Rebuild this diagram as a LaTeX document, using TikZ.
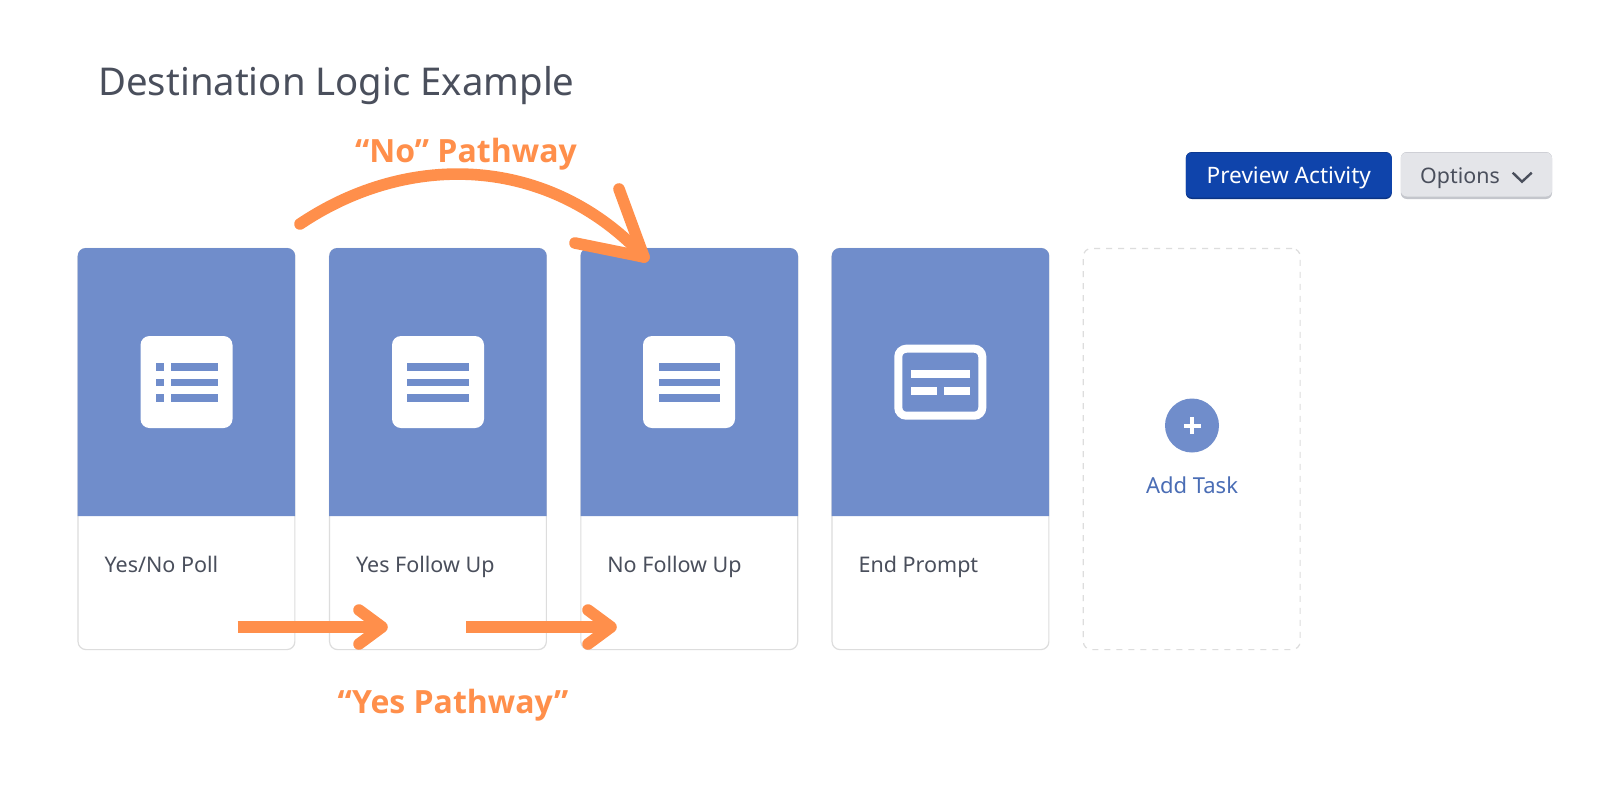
\documentclass[tikz,border=0pt]{standalone}
\usepackage{fontspec}
\setmainfont{Noto Sans}
\newfontfamily\pathfont{Open Sans}
\usepackage{tikz}
\definecolor{headblue}{HTML}{708DCB}
\definecolor{pathorange}{HTML}{FF8F4B}
\definecolor{btnblue}{HTML}{0F44AB}
\definecolor{btnblueedge}{HTML}{0B3484}
\definecolor{btngrey}{HTML}{E4E5E9}
\definecolor{btngreyedge}{HTML}{C4C6CC}
\definecolor{inktext}{HTML}{4A4F5C}
\definecolor{edgegrey}{HTML}{DDDDDD}
\definecolor{linkblue}{HTML}{4A6DB5}
\tikzset{
	cardbox/.style={draw=edgegrey, line width=0.6pt, rounded corners=4pt, minimum width=108.4pt, minimum height=200.6pt, inner sep=0pt},
	cardlabel/.style={anchor=base west, text=inktext, font=\fontsize{10.75}{12}\selectfont, inner sep=0pt},
	iconbox/.style={fill=white, rounded corners=4.5pt, minimum width=46pt, minimum height=46pt, inner sep=0pt},
	pathline/.style={draw=pathorange, line width=5.8pt},
	pathhead/.style={pathline, line cap=round, line join=round},
	pathlabel/.style={text=pathorange, font=\pathfont\bfseries\fontsize{16}{20}\selectfont, inner sep=0pt}
}
\newcommand{\card}[3]{
	\node[cardbox] (card#1) at (#2+108.75,449) {};
	\fill[headblue, rounded corners=4pt] (#2,516) [sharp corners] -- (#2,400) [rounded corners=4pt] -- (#2,248) -- (#2+217.5,248) -- (#2+217.5,400) [sharp corners] -- (#2+217.5,516) -- cycle;
	\node[cardlabel] (label#1) at (#2+26.5,572) {#3};
}
\newcommand{\iconbar}[4]{\fill[#4] (#1,#3) rectangle (#2,#3+7.6);}
\newcommand{\yesarrow}[3]{
	\coordinate (#1start) at (#2,627);
	\coordinate (#1tip) at (#3,627);
	\coordinate (#1up) at (#3-23,610);
	\coordinate (#1down) at (#3-23,644);
	\draw[pathline] (#1start) -- (#1tip);
	\draw[pathhead] (#1up) -- (#1tip) -- (#1down);
}
\begin{document}
\begin{tikzpicture}[x=0.5pt, y=-0.5pt]
	\useasboundingbox (0,0) rectangle (1600,800);
	\fill[white] (0,0) rectangle (1600,800);

	\node[anchor=base west, text=inktext, font=\fontsize{19.15}{22}\selectfont, inner sep=0pt] (title) at (98,95) {Destination Logic Example};

	\card{A}{77.7}{Yes/No Poll};
	\card{B}{329.2}{Yes Follow Up};
	\card{C}{580.5}{No Follow Up};
	\card{D}{831.7}{End Prompt};

	\node[iconbox] (iconA) at (186.5,382) {};
	\iconbar{156}{163.6}{363.3}{headblue};
	\iconbar{156}{163.6}{378.6}{headblue};
	\iconbar{156}{163.6}{394}{headblue};
	\iconbar{171.3}{217.6}{363.3}{headblue};
	\iconbar{171.3}{217.6}{378.6}{headblue};
	\iconbar{171.3}{217.6}{394}{headblue};

	\node[iconbox] (iconB) at (438,382) {};
	\iconbar{407.3}{468.7}{363.3}{headblue};
	\iconbar{407.3}{468.7}{378.6}{headblue};
	\iconbar{407.3}{468.7}{394}{headblue};

	\node[iconbox] (iconC) at (689,382) {};
	\iconbar{658.7}{720}{363.3}{headblue};
	\iconbar{658.7}{720}{378.6}{headblue};
	\iconbar{658.7}{720}{394}{headblue};

	\node[draw=white, line width=4pt, rounded corners=4pt, minimum width=42pt, minimum height=33.5pt, inner sep=0pt] (iconD) at (940.3,382.2) {};
	\iconbar{911}{970}{370}{white};
	\iconbar{911}{937}{387}{white};
	\iconbar{944.3}{970}{387}{white};

	\node[draw=edgegrey, dashed, line width=0.6pt, rounded corners=4pt, minimum width=108.4pt, minimum height=200.6pt, inner sep=0pt] (addcard) at (1191.7,449) {};
	\node[circle, fill=headblue, minimum size=27pt, inner sep=0pt] (addcircle) at (1192,425.5) {};
	\fill[white] (1183.5,423.5) rectangle (1200.5,427.5);
	\fill[white] (1190,417) rectangle (1194,434);
	\node[text=linkblue, font=\fontsize{11}{12}\selectfont, inner sep=0pt] (addlabel) at (1192,485) {Add Task};

	\node[fill=btnblueedge, rounded corners=3pt, minimum width=103pt, minimum height=23.5pt, inner sep=0pt] (previewedge) at (1288.8,175.5) {};
	\node[fill=btnblue, rounded corners=3pt, minimum width=103pt, minimum height=22.5pt, inner sep=0pt] (preview) at (1288.8,175) {};
	\node[text=white, font=\fontsize{11.3}{12}\selectfont, inner sep=0pt] (previewtext) at (1288.8,177.5) {Preview Activity};
	\node[fill=btngreyedge, rounded corners=3pt, minimum width=75.6pt, minimum height=23.5pt, inner sep=0pt] (optionsedge) at (1476.4,175.5) {};
	\node[fill=btngrey, rounded corners=3pt, minimum width=75.6pt, minimum height=22pt, inner sep=0pt] (options) at (1476.4,174.5) {};
	\node[text=inktext, font=\fontsize{10.7}{12}\selectfont, inner sep=0pt] (optionstext) at (1460,178) {Options};
	\coordinate (chevA) at (1512.7,172.7);
	\coordinate (chevB) at (1522,181.7);
	\coordinate (chevC) at (1531.7,172.7);
	\draw[inktext, line width=1.2pt] (chevA) -- (chevB) -- (chevC);

	\yesarrow{yesA}{237.7}{382};
	\yesarrow{yesB}{466}{611};

	\coordinate (nostart) at (300,224);
	\coordinate (notip) at (644,257);
	\coordinate (noup) at (619,189);
	\coordinate (nodown) at (575,243);
	\draw[pathhead] (nostart) .. controls (410,150) and (550,156) .. (notip);
	\draw[pathhead] (noup) -- (notip) -- (nodown);

	\node[pathlabel] (nolabel) at (466,154) {“No” Pathway};
	\node[pathlabel] (yeslabel) at (453,705) {“Yes Pathway”};
\end{tikzpicture}
\end{document}
